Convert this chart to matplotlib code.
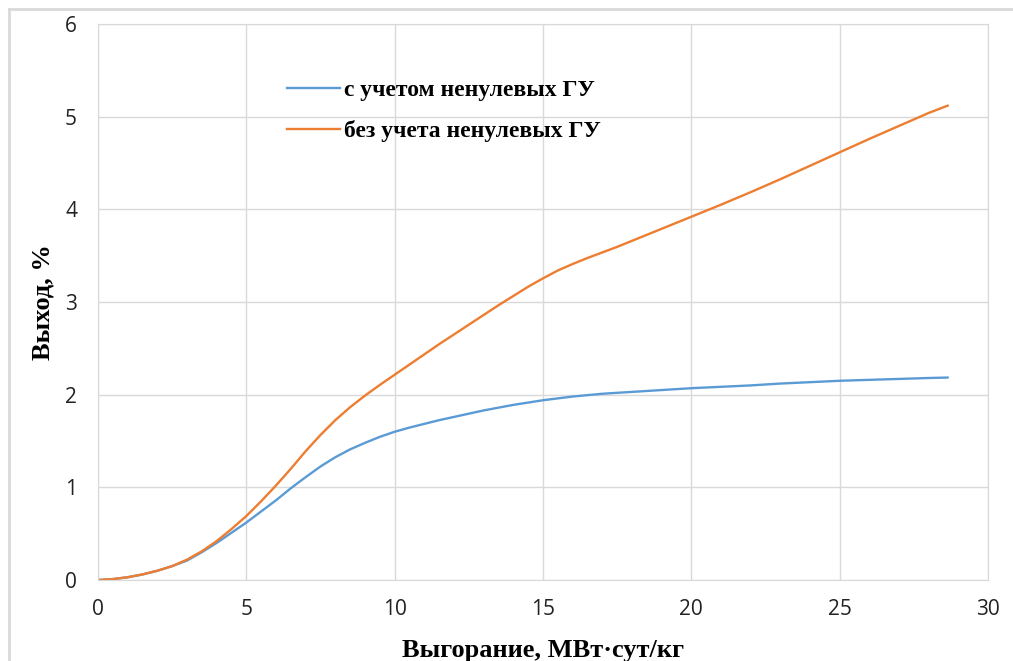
import matplotlib.pyplot as plt
from matplotlib.lines import Line2D

burnup = [0, 0.5, 1, 1.5, 2, 2.5, 3, 3.5, 4, 4.5, 5, 5.5, 6, 6.5, 7, 7.5,
          8, 8.5, 9, 9.5, 10, 10.5, 11, 11.5, 12, 12.5, 13, 13.5, 14, 14.5,
          15, 15.5, 16, 16.5, 17, 17.5, 18, 19, 20, 21, 22, 23, 24, 25, 26,
          27, 28, 28.65]
with_bc = [0, 0.01, 0.03, 0.06, 0.1, 0.15, 0.21, 0.3, 0.4, 0.51, 0.62, 0.74,
           0.86, 0.99, 1.11, 1.225, 1.325, 1.41, 1.48, 1.545, 1.6, 1.645,
           1.685, 1.725, 1.76, 1.795, 1.83, 1.86, 1.89, 1.915, 1.94, 1.96,
           1.98, 1.995, 2.01, 2.02, 2.03, 2.05, 2.07, 2.085, 2.1, 2.12, 2.135,
           2.15, 2.16, 2.17, 2.18, 2.185]
without_bc = [0, 0.01, 0.03, 0.06, 0.1, 0.15, 0.22, 0.31, 0.42, 0.55, 0.69,
              0.85, 1.02, 1.2, 1.39, 1.565, 1.725, 1.865, 1.99, 2.105, 2.215,
              2.325, 2.435, 2.545, 2.65, 2.755, 2.86, 2.965, 3.065, 3.165,
              3.255, 3.34, 3.41, 3.475, 3.535, 3.595, 3.66, 3.79, 3.92, 4.05,
              4.185, 4.325, 4.47, 4.615, 4.76, 4.9, 5.04, 5.12]

labels = ['с учетом ненулевых ГУ', 'без учета ненулевых ГУ']
BLUE = '#5B9BD5'
ORANGE = '#ED7D31'

fig = plt.figure(figsize=(10.13, 6.61), dpi=100)
ax = fig.add_axes([0.0967, 0.1225, 0.8786, 0.8412])

ax.plot(burnup, with_bc, color=BLUE, lw=1.7, solid_capstyle='round',
        solid_joinstyle='round')
ax.plot(burnup, without_bc, color=ORANGE, lw=1.7, solid_capstyle='round',
        solid_joinstyle='round')

ax.set_xlim(0, 30)
ax.set_ylim(0, 6)
ax.set_xticks(range(0, 31, 5))
ax.set_yticks(range(0, 7))
ax.grid(True, color='#D9D9D9', lw=1)
ax.set_axisbelow(True)
for s in ax.spines.values():
    s.set_color('#D9D9D9')
ax.tick_params(length=0, labelsize=15, colors='#222222', pad=14)
ax.tick_params(axis='y', pad=15)
for lab in ax.get_xticklabels() + ax.get_yticklabels():
    lab.set_family('Open Sans')

ax.set_xlabel('Выгорание, МВт·сут/кг', family='Liberation Serif',
              fontweight='bold', fontsize=19, labelpad=13)
ax.set_ylabel('Выход, %', family='Liberation Serif',
              fontweight='bold', fontsize=19, labelpad=8)

handles = [Line2D([], [], color=BLUE, lw=1.7),
           Line2D([], [], color=ORANGE, lw=1.7)]
leg = ax.legend(handles, labels, loc='upper left',
                bbox_to_anchor=(0.212, 0.9), frameon=False,
                borderaxespad=0, borderpad=0,
                prop={'family': 'Liberation Serif', 'weight': 'bold',
                      'size': 17},
                handlelength=2.25, handletextpad=0.2, labelspacing=0.8)

# outer chart frame
fig.add_artist(Line2D([9 / 1013, 9 / 1013], [0, 1 - 9 / 661],
                      transform=fig.transFigure, color='#D9D9D9', lw=2))
fig.add_artist(Line2D([9 / 1013, 1], [1 - 9 / 661, 1 - 9 / 661],
                      transform=fig.transFigure, color='#D9D9D9', lw=2))

fig.savefig('out.png', dpi=100, facecolor='white')
